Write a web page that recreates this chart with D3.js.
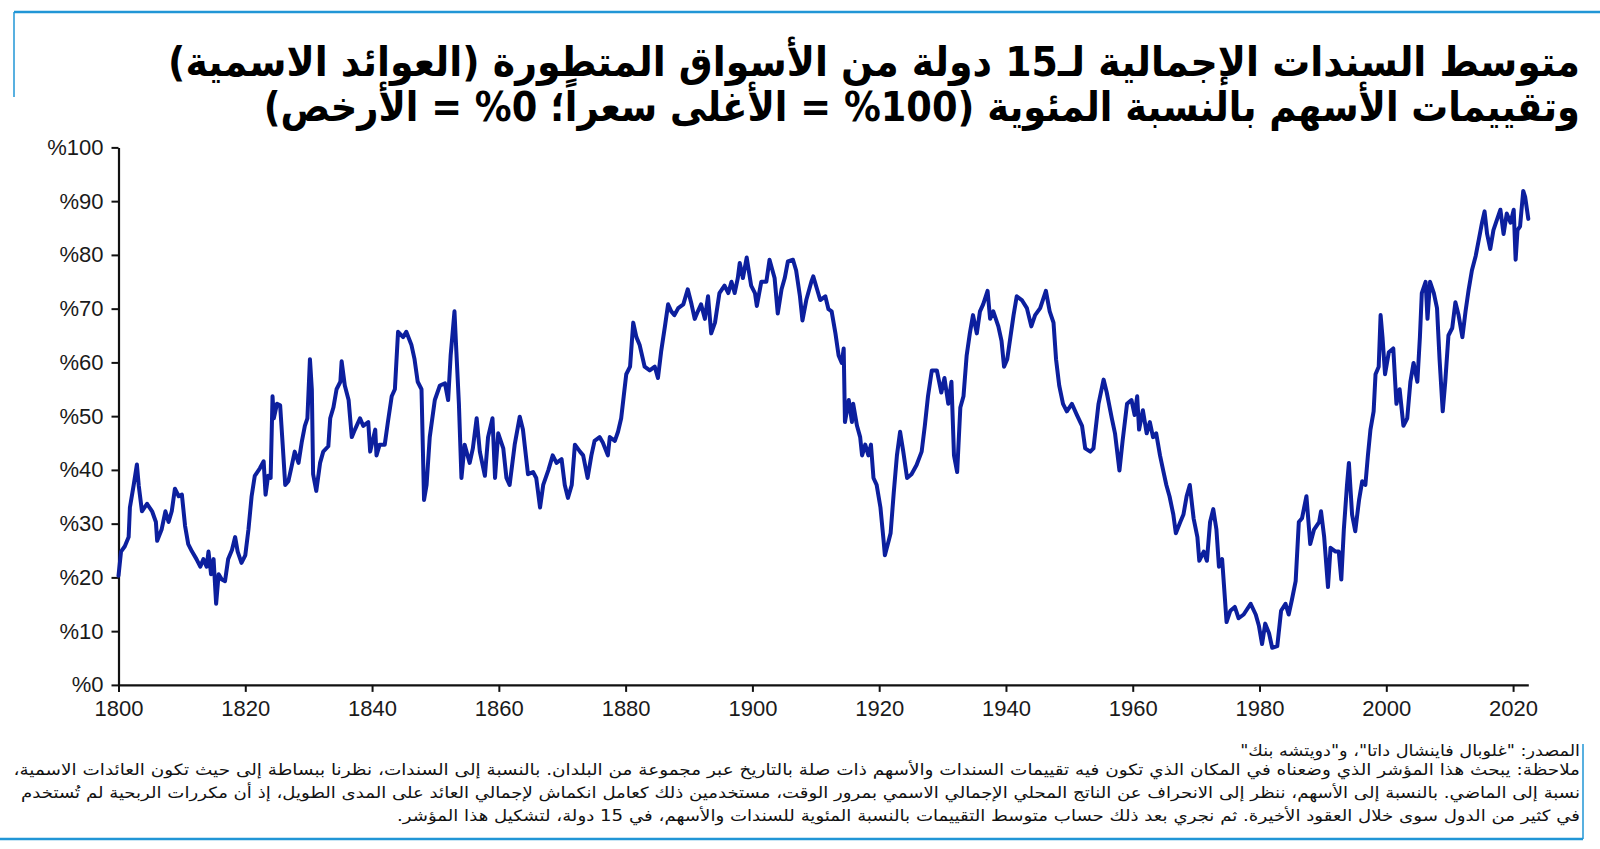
<!DOCTYPE html>
<html>
<head>
<meta charset="utf-8">
<script src="https://cdn.jsdelivr.net/npm/d3@7"></script>
<style>
  html, body { margin: 0; padding: 0; background: #ffffff; }
  svg { display: block; }
</style>
</head>
<body>
<svg id="chart" width="1600" height="849"></svg>
<script>
// ---------------- DATA ----------------
const years = [
  1800.0,1800.4,1801.0,1801.6,1801.8,1802.4,1802.9,1803.2,1803.7,1804.5,1805.3,1805.9,1806.1,1806.8,1807.4,1807.9,
  1808.4,1808.9,1809.5,1810.0,1810.5,1811.0,1811.6,1812.3,1812.9,1813.4,1813.9,1814.2,1814.6,1815.0,1815.4,1815.8,
  1816.3,1816.8,1817.3,1817.9,1818.4,1818.8,1819.4,1820.0,1820.5,1821.0,1821.5,1822.3,1822.9,1823.2,1823.6,1824.0,
  1824.3,1824.5,1825.0,1825.5,1825.9,1826.3,1826.8,1827.3,1827.8,1828.4,1828.9,1829.4,1829.8,1830.2,1830.5,1830.7,
  1831.2,1831.8,1832.3,1833.1,1833.4,1833.9,1834.4,1835.0,1835.2,1835.7,1836.3,1836.8,1837.3,1838.1,1838.6,1839.4,
  1839.7,1840.5,1840.7,1841.2,1842.0,1842.5,1843.1,1843.6,1844.1,1844.9,1845.4,1846.2,1846.7,1847.2,1847.8,1848.2,
  1848.6,1849.1,1849.9,1850.7,1851.5,1852.0,1852.4,1853.0,1853.3,1853.7,1854.1,1854.6,1855.4,1855.9,1856.5,1857.0,
  1857.8,1858.3,1859.0,1859.4,1859.9,1860.7,1861.2,1861.7,1862.5,1863.3,1863.8,1864.6,1865.4,1865.9,1866.5,1867.0,
  1867.8,1868.5,1869.1,1869.9,1870.4,1870.9,1871.5,1872.0,1872.8,1873.3,1874.0,1874.6,1875.1,1875.9,1876.4,1877.2,
  1877.5,1878.3,1878.8,1879.3,1879.7,1880.1,1880.7,1881.2,1881.7,1882.2,1883.0,1883.8,1884.6,1885.1,1885.6,1886.2,
  1886.7,1887.2,1887.7,1888.3,1889.1,1889.8,1890.4,1890.9,1891.4,1891.9,1892.5,1893.0,1893.5,1894.1,1894.8,1895.6,
  1896.2,1896.7,1897.2,1897.7,1898.0,1898.5,1899.1,1899.8,1900.4,1900.7,1901.4,1902.2,1902.7,1903.5,1904.0,1904.6,
  1905.1,1905.6,1906.4,1906.9,1907.5,1907.9,1908.5,1909.3,1909.6,1910.2,1910.7,1911.5,1912.0,1912.5,1913.1,1913.6,
  1914.1,1914.4,1914.6,1915.2,1915.7,1915.9,1916.5,1917.0,1917.3,1917.8,1918.3,1918.7,1919.1,1919.6,1920.2,1920.7,
  1920.9,1921.5,1921.8,1922.3,1922.8,1923.3,1923.8,1924.4,1925.1,1925.9,1926.7,1927.2,1927.7,1928.3,1929.1,1929.8,
  1930.3,1930.9,1931.4,1931.8,1932.3,1932.8,1933.3,1933.8,1934.3,1934.8,1935.4,1935.9,1936.4,1937.1,1937.5,1938.0,
  1938.8,1939.3,1939.7,1940.2,1940.7,1941.2,1941.7,1942.5,1943.3,1944.0,1944.6,1945.4,1946.3,1946.9,1947.5,1947.9,
  1948.4,1949.0,1949.6,1950.4,1951.2,1952.0,1952.5,1953.3,1953.8,1954.6,1955.4,1955.9,1956.7,1957.2,1957.9,1958.4,
  1959.1,1959.8,1960.3,1960.7,1961.0,1961.6,1962.2,1962.7,1963.2,1963.7,1964.3,1964.8,1965.3,1965.8,1966.4,1966.8,
  1967.5,1968.0,1968.5,1969.0,1969.6,1970.2,1970.5,1971.2,1971.7,1972.2,1972.7,1973.2,1973.6,1974.1,1974.8,1975.4,
  1976.1,1976.7,1977.5,1978.6,1979.4,1979.9,1980.4,1980.9,1981.5,1982.0,1982.8,1983.4,1984.1,1984.6,1985.1,1985.7,
  1986.2,1986.7,1987.4,1988.0,1988.6,1989.4,1989.7,1990.2,1990.8,1991.2,1992.0,1992.5,1992.9,1993.3,1993.8,1994.1,
  1994.6,1995.1,1995.7,1996.2,1996.7,1997.1,1997.5,1998.0,1998.3,1998.8,1999.1,1999.4,1999.8,2000.4,2001.1,2001.6,
  2002.1,2002.7,2003.3,2003.8,2004.3,2004.9,2005.3,2005.6,2006.2,2006.5,2006.9,2007.5,2008.0,2008.4,2008.9,2009.3,
  2009.8,2010.4,2010.9,2011.4,2012.0,2012.5,2013.0,2013.5,2014.1,2014.6,2015.1,2015.5,2015.9,2016.4,2016.9,2017.5,
  2018.0,2018.5,2019.0,2019.6,2020.1,2020.4,2020.7,2021.1,2021.6,2021.9,2022.4
];
const values = [
  20.3,24.8,25.8,27.5,33.0,37.2,41.0,37.0,32.3,33.7,32.3,30.3,26.8,28.9,32.3,30.3,
  32.3,36.5,35.1,35.4,29.6,26.2,24.8,23.4,22.0,23.4,22.0,24.8,20.6,23.4,15.1,20.6,
  19.6,19.3,23.4,25.1,27.5,24.8,22.7,24.1,28.9,35.1,38.9,40.3,41.6,35.4,38.9,38.5,
  53.7,49.6,52.3,52.0,44.7,37.2,37.9,40.6,43.4,41.3,45.1,48.2,49.6,60.6,55.0,39.2,
  36.1,41.3,43.4,44.4,49.6,51.6,55.0,56.4,60.2,55.7,53.0,46.1,47.5,49.6,48.2,48.9,
  43.4,47.5,42.7,44.7,44.7,48.9,53.7,55.0,65.7,64.7,65.7,63.3,60.6,56.4,55.0,34.4,
  37.2,46.1,53.0,55.7,56.1,53.0,61.3,69.5,62.0,52.3,38.5,44.7,41.3,44.0,49.6,43.4,
  38.9,46.1,49.6,38.5,46.8,44.0,38.5,37.2,44.7,49.9,47.5,39.2,39.6,38.5,33.0,37.2,
  39.9,42.7,41.3,42.0,37.2,34.8,37.2,44.7,43.4,42.7,38.5,42.7,45.4,46.1,45.1,42.7,
  46.1,45.4,47.1,49.6,53.7,57.8,59.2,67.4,64.7,63.3,59.2,58.5,59.2,57.1,62.0,66.7,
  70.8,69.5,68.8,70.1,70.8,73.6,70.8,68.1,69.5,70.8,68.1,72.3,65.4,67.4,72.9,74.3,
  72.9,75.0,72.9,75.7,78.5,75.7,79.5,74.3,72.9,70.5,75.0,75.0,79.1,75.7,69.1,73.6,
  75.7,78.8,79.1,77.1,72.3,67.8,71.6,75.0,76.0,73.6,71.6,72.3,69.9,69.5,65.4,61.3,
  59.9,62.6,48.9,53.0,48.9,52.3,48.2,46.1,42.7,44.7,42.7,44.7,38.5,37.2,33.0,26.8,
  24.1,26.8,28.2,35.8,42.7,47.1,43.4,38.5,39.2,40.9,43.4,48.2,53.7,58.5,58.5,54.4,
  57.1,52.3,56.4,42.7,39.6,51.6,53.7,61.3,65.4,68.8,65.4,69.5,70.8,73.3,68.1,69.5,
  66.7,64.0,59.2,60.6,64.7,68.8,72.3,71.6,70.1,66.7,68.8,70.1,73.3,69.5,67.4,60.6,
  55.7,52.3,50.9,52.3,50.2,48.2,44.0,43.4,44.0,52.3,56.8,54.4,49.6,46.8,39.9,45.4,
  52.3,53.0,50.2,53.7,47.5,51.1,46.8,48.9,46.1,46.8,42.7,39.9,37.2,35.1,31.7,28.2,
  30.3,31.7,35.1,37.2,31.0,27.5,23.1,24.8,23.1,30.3,32.7,28.9,22.0,23.4,11.7,13.8,
  14.5,12.4,13.1,15.1,13.1,11.0,7.6,11.4,9.6,6.9,7.2,13.8,15.1,13.1,15.8,19.3,
  30.3,31.0,35.1,26.2,28.9,30.3,32.3,27.5,18.2,25.5,24.8,24.8,19.6,28.9,37.2,41.3,
  31.7,28.6,34.4,37.9,37.2,42.7,47.5,50.9,57.8,59.2,68.8,64.7,57.8,61.9,62.6,52.3,
  55.0,48.2,49.6,56.4,59.9,56.4,64.7,72.9,75.0,68.1,75.0,72.9,70.1,60.6,50.9,56.4,
  65.0,66.4,71.2,68.8,64.7,69.5,73.6,77.1,79.8,82.9,86.0,88.1,83.9,81.1,84.6,86.7,
  88.4,83.9,87.7,86.0,88.4,79.1,84.6,85.3,91.9,90.8,86.7
];
const yTicks = [0, 10, 20, 30, 40, 50, 60, 70, 80, 90, 100];
const xTicks = [1800, 1820, 1840, 1860, 1880, 1900, 1920, 1940, 1960, 1980, 2000, 2020];
const titleLines = [
  "متوسط السندات الإجمالية لـ15 دولة من الأسواق المتطورة (العوائد الاسمية)",
  "وتقييمات الأسهم بالنسبة المئوية (100% = الأغلى سعراً؛ 0% = الأرخص)"
];
const noteLines = [
  "المصدر: \"غلوبال فاينشال داتا\"، و\"دويتشه بنك\"",
  "ملاحظة: يبحث هذا المؤشر الذي وضعناه في المكان الذي تكون فيه تقييمات السندات والأسهم ذات صلة بالتاريخ عبر مجموعة من البلدان. بالنسبة إلى السندات، نظرنا ببساطة إلى حيث تكون العائدات الاسمية،",
  "نسبة إلى الماضي. بالنسبة إلى الأسهم، ننظر إلى الانحراف عن الناتج المحلي الإجمالي الاسمي بمرور الوقت، مستخدمين ذلك كعامل انكماش لإجمالي العائد على المدى الطويل، إذ أن مكررات الربحية لم تُستخدم",
  "في كثير من الدول سوى خلال العقود الأخيرة. ثم نجري بعد ذلك حساب متوسط التقييمات بالنسبة المئوية للسندات والأسهم، في 15 دولة، لتشكيل هذا المؤشر."
];

// ---------------- LAYOUT ----------------
const svg = d3.select("#chart");
const accent = "#2196d6";
const lineColor = "#0c1f9e";
const arFont = "'DejaVu Sans', 'Noto Sans', sans-serif";
const numFont = "'Liberation Sans', Arial, sans-serif";

const x = d3.scaleLinear().domain([1800, 2022.4]).range([118.5, 1528.3]);
const y = d3.scaleLinear().domain([0, 100]).range([684.9, 147.4]);

// decorative frame lines
svg.append("line").attr("x1", 14).attr("x2", 1600).attr("y1", 12).attr("y2", 12)
  .attr("stroke", accent).attr("stroke-width", 2.5);
svg.append("line").attr("x1", 14).attr("x2", 14).attr("y1", 12).attr("y2", 97)
  .attr("stroke", accent).attr("stroke-width", 1.5);
svg.append("line").attr("x1", 0).attr("x2", 1583).attr("y1", 839).attr("y2", 839)
  .attr("stroke", accent).attr("stroke-width", 2.5);
svg.append("line").attr("x1", 1583).attr("x2", 1583).attr("y1", 744).attr("y2", 839)
  .attr("stroke", accent).attr("stroke-width", 1.5);

// right-aligned RTL text fitted horizontally to a target width
function fittedText(str, right, base, width, size, weight, fill) {
  const g = svg.append("g").attr("transform", `translate(${right},${base})`);
  const t = g.append("text")
    .attr("x", 0).attr("y", 0)
    .attr("direction", "rtl")
    .style("direction", "rtl")
    .attr("text-anchor", "start")
    .attr("font-family", arFont)
    .attr("font-weight", weight)
    .attr("font-size", size)
    .attr("fill", fill)
    .text(str);
  const w = t.node().getComputedTextLength();
  const s = w > 0 ? width / w : 1;
  g.attr("transform", `translate(${right},${base}) scale(${s},1)`);
  return g;
}

// title
const titleBase = [76, 121];
const titleWidth = [1412, 1317];
titleLines.forEach((t, i) => fittedText(t, 1580, titleBase[i], titleWidth[i], 41, "bold", "#000"));

// axes
const gy = svg.append("g").attr("transform", `translate(${x(1800)},0)`)
  .call(d3.axisLeft(y).tickValues(yTicks).tickFormat(d => "%" + d).tickSize(7).tickSizeOuter(0).tickPadding(8));
gy.selectAll("text").attr("font-family", numFont).attr("font-size", 22).attr("fill", "#1a1a1a");
gy.selectAll("line").attr("stroke", "#111").attr("stroke-width", 2);
gy.select(".domain").attr("stroke", "#111").attr("stroke-width", 2.2);

const gx = svg.append("g").attr("transform", `translate(0,${y(0)})`)
  .call(d3.axisBottom(x).tickValues(xTicks).tickFormat(d3.format("d")).tickSize(7).tickSizeOuter(0).tickPadding(8));
gx.selectAll("text").attr("font-family", numFont).attr("font-size", 22).attr("fill", "#1a1a1a");
gx.selectAll("line").attr("stroke", "#111").attr("stroke-width", 2);
gx.select(".domain").attr("stroke", "#111").attr("stroke-width", 2.2);

// series line
const data = years.map((yr, i) => ({ yr, v: values[i] }));
svg.append("path")
  .datum(data)
  .attr("fill", "none")
  .attr("stroke", lineColor)
  .attr("stroke-width", 4)
  .attr("stroke-linejoin", "round")
  .attr("stroke-linecap", "round")
  .attr("d", d3.line().x(d => x(d.yr)).y(d => y(d.v)));

// footnote
const noteBase = [756, 775, 798, 821];
const noteWidth = [340, 1568, 1560, 1184];
noteLines.forEach((t, i) => fittedText(t, 1580, noteBase[i], noteWidth[i], 15.5, "normal", "#111"));
</script>
</body>
</html>
